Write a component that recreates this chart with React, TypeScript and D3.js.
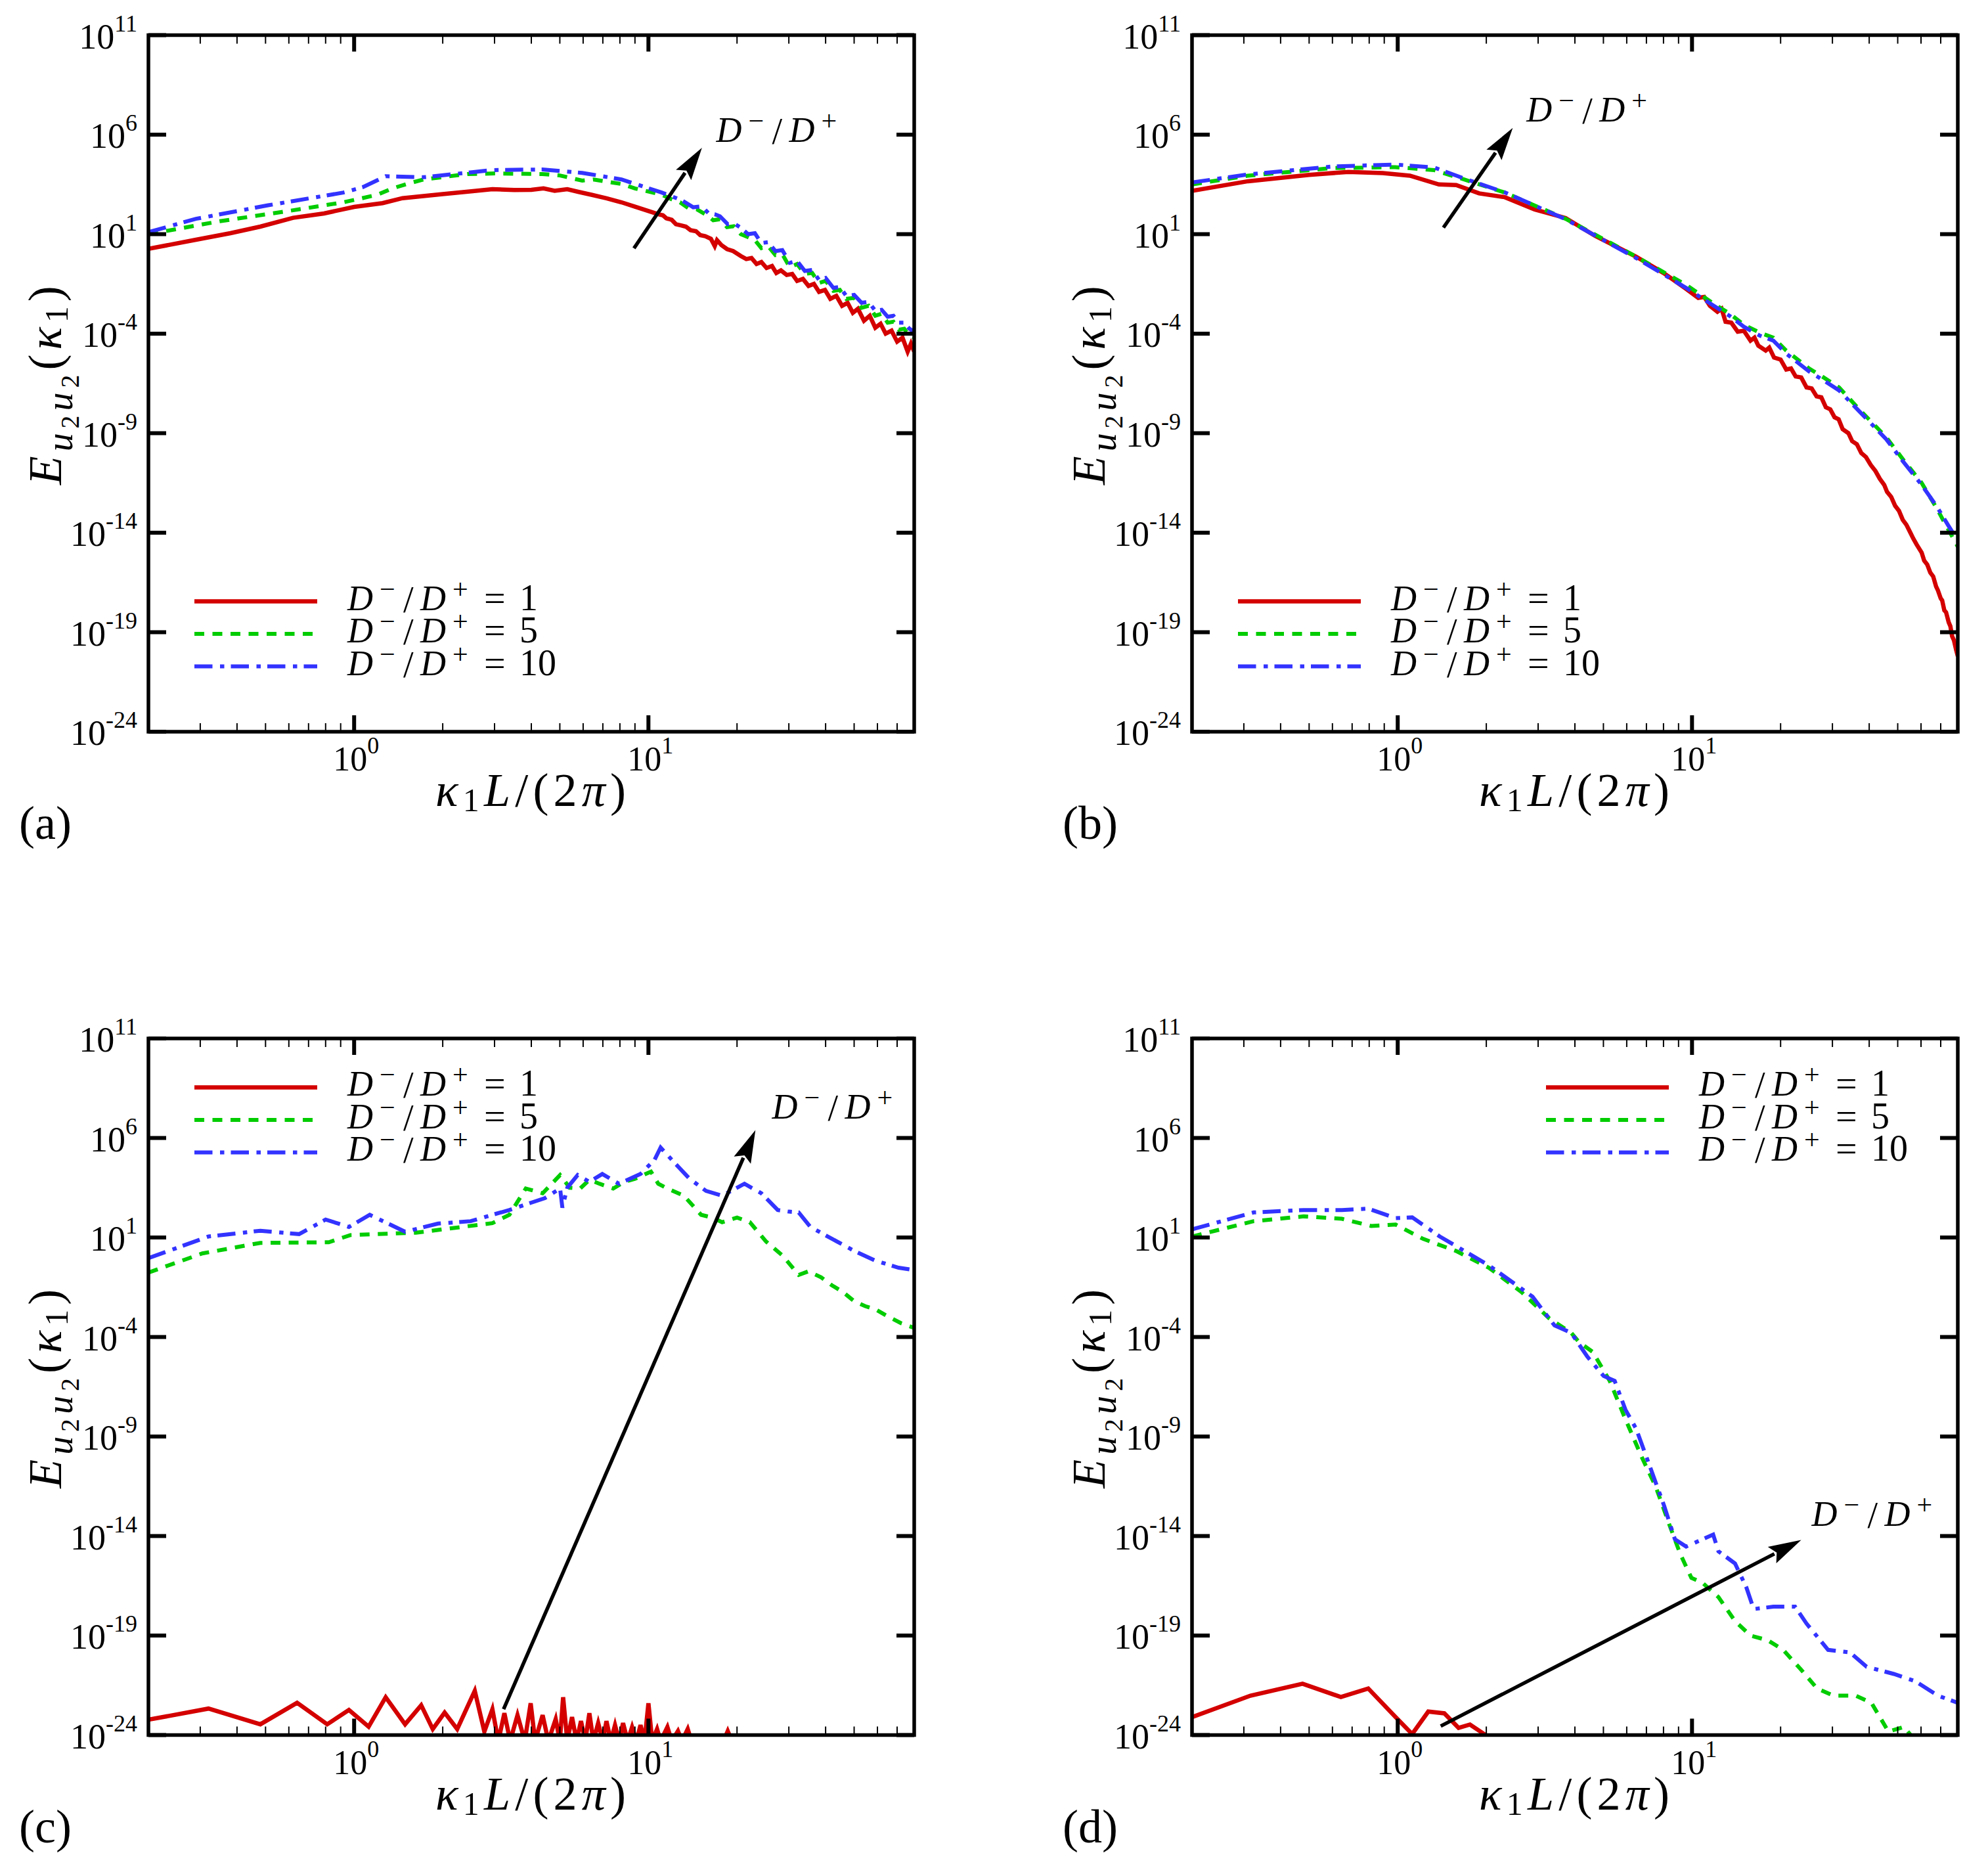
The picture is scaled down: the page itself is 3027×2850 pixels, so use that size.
import * as d3 from "d3";

// Spectra E_u2u2(k1) vs k1 L/(2pi), four panels, three diffusivity ratios.
// Each series is [k1 L/(2pi), log10 E].

const SERIF = "Liberation Serif, DejaVu Serif, serif";
const W = 3027;
const H = 2850;
const PW = 1166;
const PH = 1060.5;

const X_DOMAIN: [number, number] = [0.2, 80];
const Y_DOMAIN: [number, number] = [1e-24, 1e11];
const Y_TICK_EXP = [11, 6, 1, -4, -9, -14, -19, -24];
const X_MAJOR_EXP = [0, 1];
const X_MINOR = [0.3, 0.4, 0.5, 0.6, 0.7, 0.8, 0.9, 2, 3, 4, 5, 6, 7, 8, 9, 20, 30, 40, 50, 60, 70, 80];
const RATIOS = ["1", "5", "10"];
const COLORS = ["#d40000", "#00cc00", "#3333ff"];
const DASHES = ["none", "15 12.5", "27.5 11.5 6.5 10"];
const WIDTHS = [6.5, 6, 6];

// ---- panel (a)
const aRed: [number, number][] = [
  [0.2, 0.26], [0.29, 0.72], [0.38, 1.05], [0.48, 1.38], [0.62, 1.82], [0.79, 2.04], [1.0, 2.37],
  [1.25, 2.56], [1.46, 2.81], [2.0, 3.01], [2.5, 3.15], [2.95, 3.26], [3.5, 3.22], [4.0, 3.23],
  [4.4, 3.3], [4.8, 3.18], [5.3, 3.26], [5.8, 3.12], [6.4, 2.98], [7.2, 2.8], [8.1, 2.6], [9.0, 2.38],
  [10.3, 2.1], [10.8, 2.0], [11.2, 1.95], [11.5, 1.8], [12.0, 1.72], [12.4, 1.5], [12.9, 1.44],
  [13.4, 1.38], [13.9, 1.2], [14.5, 1.15], [15.0, 0.95], [15.6, 0.9], [16.3, 0.77], [16.8, 0.4],
  [17.1, 0.7], [17.7, 0.45], [18.5, 0.25], [19.4, 0.15], [20.6, -0.1], [21.5, -0.25], [22.4, -0.2],
  [23.3, -0.5], [24.2, -0.4], [25.2, -0.7], [26.3, -0.6], [27.2, -0.95], [28.2, -0.82], [29.5, -1.05],
  [30.8, -1.0], [32, -1.35], [33.5, -1.25], [35, -1.6], [36.5, -1.5], [38, -1.9], [39.8, -1.8],
  [41.5, -2.25], [43.5, -2.1], [45.5, -2.6], [47.5, -2.45], [49.5, -2.95], [51.5, -2.75], [54, -3.35],
  [56.5, -3.1], [59, -3.7], [61.5, -3.5], [64, -4.0], [67, -3.85], [70, -4.4], [73, -4.2], [76, -4.9],
  [78, -4.5], [80, -4.9],
];
const aGreen: [number, number][] = [
  [0.2, 1.0], [0.35, 1.65], [0.62, 2.2], [0.92, 2.6], [1.2, 2.98], [1.35, 3.3], [1.51, 3.52],
  [1.72, 3.75], [2.43, 4.02], [3.0, 4.05], [4.36, 4.02], [5.0, 3.95], [5.96, 3.69], [6.5, 3.75],
  [8.1, 3.52], [9.0, 3.3], [11.1, 2.98], [12, 2.75], [12.8, 2.6], [13.7, 2.3], [14.6, 2.25],
  [15.7, 1.98], [16.6, 1.7], [17.5, 1.75], [18.5, 1.35], [19.5, 1.4], [20.6, 1.0], [21.8, 0.85],
  [23, 0.7], [24.2, 0.3], [25.5, 0.4], [27, -0.05], [28.5, 0.0], [30.2, -0.66], [32, -0.5], [34, -1.0],
  [36, -0.95], [38, -1.45], [40, -1.35], [42.5, -1.85], [44.7, -1.8], [47, -2.25], [50, -2.2],
  [53, -2.7], [56, -2.6], [59, -3.1], [62, -3.0], [65, -3.45], [68, -3.4], [71, -3.8], [74, -3.75],
  [77, -4.1], [80, -4.2],
];
const aBlue: [number, number][] = [
  [0.2, 1.1], [0.29, 1.77], [0.51, 2.45], [0.92, 3.09], [1.07, 3.36], [1.28, 3.91], [1.72, 3.86],
  [2.95, 4.22], [4.36, 4.25], [5.96, 4.08], [8.1, 3.75], [11.1, 3.09], [12, 2.9], [13, 2.7],
  [14.2, 2.35], [15.2, 2.4], [16, 2.05], [16.8, 2.0], [17.5, 1.9], [18.6, 1.5], [19.5, 1.55],
  [20.6, 1.32], [21.8, 1.0], [23, 1.05], [24.2, 0.55], [25.5, 0.6], [27, 0.15], [28.5, 0.2],
  [30.2, -0.44], [32, -0.35], [34, -0.85], [36, -0.8], [38, -1.3], [40, -1.2], [42.5, -1.7],
  [44.7, -1.65], [47, -2.1], [50, -2.05], [53, -2.45], [56, -2.4], [59, -2.85], [62, -2.8],
  [65, -3.15], [68, -3.1], [71, -3.45], [74, -3.45], [77, -3.75], [80, -3.9],
];

// ---- panel (b)
const bRed: [number, number][] = [
  [0.2, 3.18], [0.31, 3.66], [0.5, 3.98], [0.68, 4.13], [0.89, 4.07], [1.1, 3.94], [1.38, 3.5],
  [1.58, 3.47], [1.89, 3.05], [2.31, 2.86], [2.92, 2.24], [3.72, 1.81], [4.68, 0.92], [6.46, -0.13],
  [8.0, -0.95], [9.55, -1.75], [10.5, -2.2], [11.0, -2.15], [11.5, -2.6], [12.2, -2.9], [12.6, -2.75],
  [13, -3.4], [13.6, -3.45], [14.3, -3.9], [15.0, -3.85], [15.8, -4.35], [16.3, -4.2], [16.8, -4.6],
  [17.8, -4.85], [18.3, -4.7], [19, -5.2], [20.0, -5.3], [20.9, -5.8], [21.7, -5.75], [22.5, -6.15],
  [23.5, -6.2], [24.5, -6.7], [25.5, -6.75], [26.5, -7.15], [27.5, -7.2], [28.5, -7.7], [29.5, -7.8],
  [30.5, -8.2], [31.5, -8.3], [32.5, -8.8], [34, -9.0], [35, -9.4], [36.3, -9.55], [37.6, -10.0],
  [39, -10.2], [40.5, -10.6], [42, -10.9], [43.5, -11.3], [45, -11.6], [46, -11.95], [47.5, -12.2],
  [49, -12.65], [50.5, -12.9], [52, -13.35], [53.5, -13.6], [55, -13.95], [56.5, -14.3], [58, -14.6],
  [60.3, -15.0], [61.5, -15.4], [63, -15.6], [64.5, -16.0], [66, -16.2], [67.5, -16.7], [68.5, -16.9],
  [70, -17.3], [70.8, -17.4], [72, -17.9], [73, -18.0], [74.5, -18.5], [75.5, -18.7], [76.5, -19.2],
  [77.6, -19.4], [79, -19.9], [80, -20.2],
];
const bGreen: [number, number][] = [
  [0.2, 3.5], [0.31, 3.94], [0.6, 4.32], [0.98, 4.37], [1.33, 4.22], [1.68, 3.75], [2.31, 3.09],
  [3.72, 1.77], [6.46, -0.13], [9.55, -1.55], [12, -2.55], [13.4, -2.98], [15, -3.55], [17, -3.95],
  [18.9, -4.2], [20.9, -4.85], [25, -5.75], [28, -6.2], [31.6, -6.7], [37, -7.8], [45.7, -9.2],
  [52, -10.3], [60.3, -11.5], [68, -12.8], [74, -13.8], [80, -14.7],
];
const bBlue: [number, number][] = [
  [0.2, 3.6], [0.31, 4.0], [0.6, 4.4], [0.98, 4.5], [1.33, 4.35], [1.68, 3.8], [2.31, 3.1],
  [3.72, 1.75], [6.46, -0.2], [9.55, -1.7], [12, -2.65], [13.4, -3.1], [15, -3.65], [17, -4.1],
  [18.9, -4.35], [20.9, -5.0], [25, -5.9], [28, -6.35], [31.6, -6.85], [37, -7.9], [45.7, -9.3],
  [52, -10.4], [60.3, -11.6], [68, -12.7], [74, -13.6], [80, -14.4],
];

// ---- panel (c)
const cRed: [number, number][] = [
  [0.2, -23.23], [0.32, -22.67], [0.48, -23.46], [0.64, -22.38], [0.81, -23.46], [0.96, -22.74],
  [1.12, -23.58], [1.28, -22.1], [1.49, -23.46], [1.69, -22.5], [1.85, -23.7], [2.03, -22.87],
  [2.24, -23.7], [2.57, -21.78], [2.77, -23.83], [2.95, -22.7], [3.09, -24.3], [3.24, -22.9],
  [3.39, -24.3], [3.59, -23.0], [3.8, -24.3], [3.98, -22.4], [4.12, -24.3], [4.37, -23.0],
  [4.57, -24.3], [4.84, -23.2], [5.0, -24.3], [5.13, -22.1], [5.3, -24.3], [5.5, -23.1], [5.7, -24.3],
  [5.9, -23.3], [6.1, -24.3], [6.3, -22.9], [6.5, -24.3], [6.75, -23.4], [7.0, -24.3], [7.2, -23.3],
  [7.45, -24.3], [7.7, -23.5], [7.95, -24.3], [8.2, -23.4], [8.5, -24.3], [8.8, -23.6], [9.1, -24.3],
  [9.4, -23.5], [9.7, -24.3], [10.0, -22.4], [10.3, -24.3], [10.7, -23.7], [11.0, -24.3],
  [11.6, -23.6], [12.0, -24.3], [12.6, -23.8], [13.0, -24.3], [13.6, -23.7], [14.0, -24.3],
  [18.0, -24.3], [18.6, -23.8], [19.2, -24.3], [80, -24.3],
];
const cGreen: [number, number][] = [
  [0.2, -0.76], [0.305, 0.2], [0.48, 0.73], [0.82, 0.76], [0.97, 1.12], [1.62, 1.24], [2.95, 1.72],
  [3.37, 2.14], [3.83, 3.46], [4.37, 3.22], [5.01, 4.14], [5.4, 3.5], [5.86, 3.46], [6.3, 3.9],
  [6.82, 3.7], [7.59, 3.46], [8.3, 3.8], [9.0, 3.95], [10.2, 4.31], [10.8, 3.7], [11.6, 3.46],
  [13.2, 3.1], [15.1, 2.14], [16.5, 2.0], [17.8, 1.77], [20, 2.0], [22.1, 1.77], [25.1, 0.8],
  [28.6, 0.08], [32.4, -0.88], [35, -0.7], [38.6, -1.0], [42, -1.4], [45.7, -1.73], [50, -2.2],
  [54.5, -2.45], [59, -2.6], [64.6, -2.94], [72, -3.3], [80, -3.54],
];
const cBlue: [number, number][] = [
  [0.2, -0.04], [0.32, 1.05], [0.48, 1.34], [0.65, 1.17], [0.8, 1.9], [0.96, 1.53], [1.13, 2.14],
  [1.49, 1.29], [1.93, 1.7], [2.49, 1.82], [2.95, 2.14], [3.37, 2.38], [3.98, 2.74], [4.45, 2.98],
  [5.01, 3.46], [5.1, 2.5], [5.3, 3.5], [5.75, 4.14], [6.3, 3.8], [6.97, 4.19], [7.94, 3.7],
  [9.4, 4.19], [10.5, 4.91], [11.0, 5.52], [12.2, 4.79], [13.8, 3.95], [15.7, 3.34], [17.8, 3.1],
  [21.2, 3.7], [24.2, 3.22], [27.5, 2.38], [30, 2.3], [32.4, 2.26], [35.5, 1.53], [42.1, 0.93],
  [50.1, 0.32], [58.9, -0.16], [70.8, -0.52], [80, -0.64],
];

// ---- panel (d)
const dRed: [number, number][] = [
  [0.2, -23.1], [0.316, -22.02], [0.475, -21.42], [0.641, -22.09], [0.794, -21.66], [0.984, -23.1],
  [1.12, -23.95], [1.27, -22.82], [1.44, -22.91], [1.61, -23.64], [1.76, -23.47], [2.0, -24.02],
  [2.22, -24.4],
];
const dGreen: [number, number][] = [
  [0.2, 1.05], [0.324, 1.82], [0.479, 2.06], [0.646, 1.94], [0.813, 1.58], [0.984, 1.65],
  [1.22, 0.93], [1.58, 0.32], [2.04, -0.52], [2.63, -1.73], [3.27, -3.06], [3.88, -3.78],
  [4.14, -4.27], [4.6, -4.75], [5.25, -6.2], [5.94, -8.13], [6.76, -10.06], [7.52, -11.5],
  [8.38, -13.44], [9.12, -14.9], [9.95, -16.1], [10.84, -16.34], [12.3, -17.07], [14.0, -18.27],
  [15.8, -19.0], [18.1, -19.24], [20.4, -19.72], [23.4, -20.69], [26.6, -21.66], [30.2, -22.02],
  [36.0, -22.02], [40.7, -22.38], [46.5, -23.83], [52.5, -23.59], [57.5, -24.3], [80, -25],
];
const dBlue: [number, number][] = [
  [0.2, 1.41], [0.324, 2.26], [0.479, 2.38], [0.646, 2.38], [0.794, 2.45], [0.984, 1.97],
  [1.12, 2.01], [1.39, 1.05], [2.04, -0.4], [2.87, -1.97], [3.41, -3.42], [3.88, -3.78],
  [4.41, -4.99], [5.01, -5.96], [5.46, -6.2], [5.94, -7.65], [6.46, -8.61], [7.21, -10.55],
  [8.04, -12.48], [8.75, -14.17], [9.55, -14.53], [10.84, -14.17], [11.8, -13.93], [12.3, -14.77],
  [14.0, -15.38], [15.3, -16.58], [16.2, -17.67], [18.9, -17.55], [22.4, -17.55], [24.5, -18.4],
  [29.0, -19.72], [34.4, -19.85], [39.2, -20.57], [48.5, -20.93], [57.5, -21.3], [68.4, -22.02],
  [80, -22.38],
];

type Pt = [number, number];
type Panel = {
  key: string;
  left: number;
  top: number;
  series: Pt[][];
  legendX: number; // line start, relative to panel left
  legendY: number; // first row, relative to panel top
  arrowFrom: Pt;
  arrowTo: Pt;
  arrowText: Pt;
};

const PANELS: Panel[] = [
  { key: "a", left: 226, top: 53.5, series: [aRed, aGreen, aBlue], legendX: 70, legendY: 862,
    arrowFrom: [8.93, 0.29], arrowTo: [15.2, 5.34], arrowText: [17.0, 5.64] },
  { key: "b", left: 1815, top: 53.5, series: [bRed, bGreen, bBlue], legendX: 70, legendY: 862,
    arrowFrom: [1.43, 1.33], arrowTo: [2.46, 6.34], arrowText: [2.74, 6.66] },
  { key: "c", left: 226, top: 1581, series: [cRed, cGreen, cBlue], legendX: 70, legendY: 74.4,
    arrowFrom: [3.22, -22.7], arrowTo: [23.1, 6.4], arrowText: [26.3, 6.96] },
  { key: "d", left: 1815, top: 1581, series: [dRed, dGreen, dBlue], legendX: 539, legendY: 74.4,
    arrowFrom: [1.4, -23.55], arrowTo: [23.5, -14.2], arrowText: [25.5, -13.5] },
];

const font = { fontFamily: SERIF };

function DRatio({ x, y, value }: { x: number; y: number; value?: string }) {
  return (
    <text x={x} y={y} fontSize={54} style={font} fill="#000">
      <tspan fontStyle="italic">D</tspan>
      <tspan x={x + 49} y={y - 18} fontSize={42}>−</tspan>
      <tspan x={x + 85} y={y + 3} fontSize={56}>/</tspan>
      <tspan x={x + 111} y={y} fontStyle="italic">D</tspan>
      <tspan x={x + 160} y={y - 18} fontSize={42}>+</tspan>
      {value && (
        <>
          <tspan x={x + 208} y={y + 1} fontSize={58}>=</tspan>
          <tspan x={x + 262} y={y} fontSize={56}>{value}</tspan>
        </>
      )}
    </text>
  );
}

function PanelView({ p }: { p: Panel }) {
  const x = d3.scaleLog().domain(X_DOMAIN).range([p.left, p.left + PW]);
  const y = d3.scaleLog().domain(Y_DOMAIN).range([p.top + PH, p.top]);
  const line = d3
    .line<Pt>()
    .x((d) => x(d[0]))
    .y((d) => y(Math.pow(10, d[1])));
  const bottom = p.top + PH;
  const right = p.left + PW;
  const clipId = `clip-${p.key}`;

  // arrow geometry
  const ax0 = x(p.arrowFrom[0]);
  const ay0 = y(Math.pow(10, p.arrowFrom[1]));
  const ax1 = x(p.arrowTo[0]);
  const ay1 = y(Math.pow(10, p.arrowTo[1]));
  const len = Math.hypot(ax1 - ax0, ay1 - ay0);
  const ux = (ax1 - ax0) / len;
  const uy = (ay1 - ay0) / len;
  const headL = 50;
  const headW = 14;
  const bx = ax1 - ux * headL;
  const by = ay1 - uy * headL;
  const head = `${ax1},${ay1} ${bx - uy * headW},${by + ux * headW} ${bx + ux * 8},${by + uy * 8} ${bx + uy * headW},${by - ux * headW}`;

  const tx = x(p.arrowText[0]);
  const ty = y(Math.pow(10, p.arrowText[1]));

  return (
    <g>
      <defs>
        <clipPath id={clipId}>
          <rect x={p.left} y={p.top} width={PW} height={PH} />
        </clipPath>
      </defs>

      {/* curves */}
      <g clipPath={`url(#${clipId})`}>
        {p.series.map((s, i) => (
          <path
            key={i}
            d={line(s) || ""}
            fill="none"
            stroke={COLORS[i]}
            strokeWidth={WIDTHS[i]}
            strokeDasharray={DASHES[i]}
            strokeLinejoin="miter"
          />
        ))}
      </g>

      {/* y ticks */}
      {Y_TICK_EXP.map((e) => {
        const yy = y(Math.pow(10, e));
        return (
          <g key={e}>
            <line x1={p.left} x2={p.left + 27} y1={yy} y2={yy} stroke="#000" strokeWidth={6} />
            <line x1={right - 27} x2={right} y1={yy} y2={yy} stroke="#000" strokeWidth={6} />
            <text x={p.left - 17} y={yy + 20} textAnchor="end" style={font} fontSize={54}>
              10<tspan dy={-26} fontSize={36}>{e}</tspan>
            </text>
          </g>
        );
      })}

      {/* x ticks */}
      {X_MINOR.map((v) => (
        <g key={v}>
          <line x1={x(v)} x2={x(v)} y1={bottom} y2={bottom - 13} stroke="#000" strokeWidth={2} />
          <line x1={x(v)} x2={x(v)} y1={p.top} y2={p.top + 13} stroke="#000" strokeWidth={2} />
        </g>
      ))}
      {X_MAJOR_EXP.map((e) => {
        const xx = x(Math.pow(10, e));
        return (
          <g key={e}>
            <line x1={xx} x2={xx} y1={bottom} y2={bottom - 25} stroke="#000" strokeWidth={6} />
            <line x1={xx} x2={xx} y1={p.top} y2={p.top + 25} stroke="#000" strokeWidth={6} />
            <text x={xx + 3} y={bottom + 59} textAnchor="middle" style={font} fontSize={52}>
              10<tspan dy={-26} fontSize={36}>{e}</tspan>
            </text>
          </g>
        );
      })}

      {/* frame */}
      <rect x={p.left} y={p.top} width={PW} height={PH} fill="none" stroke="#000" strokeWidth={5.5} />

      {/* legend */}
      {RATIOS.map((r, i) => {
        const ly = p.top + p.legendY + i * 49.5;
        return (
          <g key={r}>
            <line
              x1={p.left + p.legendX}
              x2={p.left + p.legendX + 187}
              y1={ly}
              y2={ly}
              stroke={COLORS[i]}
              strokeWidth={WIDTHS[i]}
              strokeDasharray={DASHES[i]}
            />
            <DRatio x={p.left + p.legendX + 233} y={ly + 13} value={r} />
          </g>
        );
      })}

      {/* arrow */}
      <line x1={ax0} y1={ay0} x2={bx + ux * 4} y2={by + uy * 4} stroke="#000" strokeWidth={5.5} />
      <polygon points={head} fill="#000" />
      <DRatio x={tx} y={ty} />

      {/* y label */}
      <g transform={`translate(${p.left - 133},${p.top + PH / 2 + 3}) rotate(-90)`}>
        <text x={0} y={0} textAnchor="middle" fontSize={72} style={font} textLength={303} lengthAdjust="spacing">
          <tspan fontStyle="italic">E</tspan>
          <tspan dy={17} fontSize={56} fontStyle="italic">u</tspan>
          <tspan dy={10} fontSize={40}>2</tspan>
          <tspan dy={-10} fontSize={56} fontStyle="italic">u</tspan>
          <tspan dy={10} fontSize={40}>2</tspan>
          <tspan dy={-27}>(</tspan>
          <tspan fontStyle="italic">κ</tspan>
          <tspan dy={10} fontSize={50}>1</tspan>
          <tspan dy={-10}>)</tspan>
        </text>
      </g>

      {/* x label */}
      <text x={p.left + 437} y={bottom + 113} fontSize={72} style={font} textLength={290} lengthAdjust="spacing">
        <tspan fontStyle="italic">κ</tspan>
        <tspan dy={8} fontSize={50}>1</tspan>
        <tspan dy={-8} fontStyle="italic">L</tspan>
        <tspan>/(2</tspan>
        <tspan fontStyle="italic">π</tspan>
        <tspan>)</tspan>
      </text>

      {/* panel tag */}
      <text x={p.left - 197} y={bottom + 163} style={font} fontSize={72}>
        ({p.key})
      </text>
    </g>
  );
}

export default function App() {
  return (
    <div style={{ position: "absolute", left: 0, top: 0, width: W, height: H, background: "#fff" }}>
      <svg width={W} height={H} viewBox={`0 0 ${W} ${H}`} style={{ display: "block", fontFamily: SERIF }}>
        <rect x={0} y={0} width={W} height={H} fill="#fff" />
        {PANELS.map((p) => (
          <PanelView key={p.key} p={p} />
        ))}
      </svg>
    </div>
  );
}
